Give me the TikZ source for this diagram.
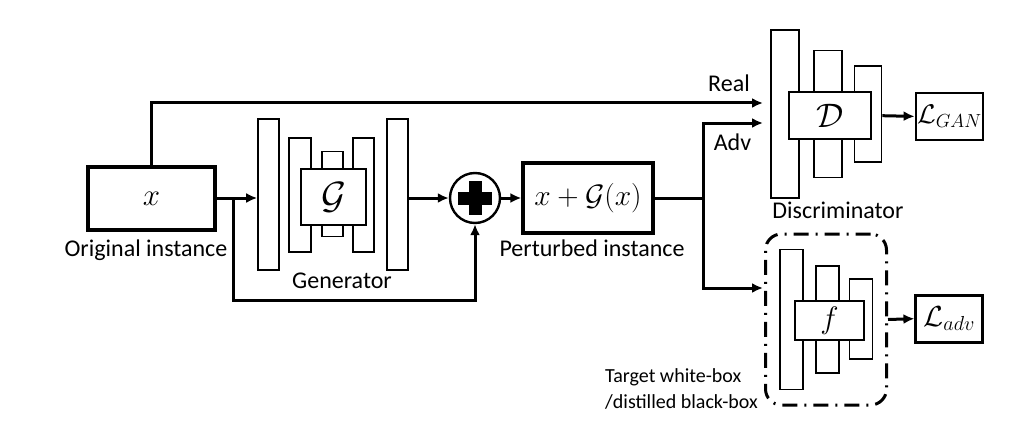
\documentclass[tikz,border=0pt]{standalone}
\usepackage{fix-cm}
\usepackage{fontspec}
\setmainfont{Carlito}
\usepackage{tikz}
\usetikzlibrary{arrows.meta}
\tikzset{
  blk/.style={draw,line width=3.2pt,fill=white,inner sep=0pt},
  inblk/.style={draw,line width=1.9pt,fill=white,inner sep=0pt},
  layer/.style={draw,line width=1.6pt,fill=white,inner sep=0pt},
  wire/.style={line width=3pt},
  arr/.style={line width=3pt,-{Latex[length=11pt,width=10pt]}},
  lbl/.style={font=\fontsize{24}{28}\selectfont,inner sep=0pt},
  mth/.style={font=\fontsize{#1}{#1}\selectfont},
  mth/.default=28
}
\newcommand{\lay}[4]{\node[layer,minimum width=#3,minimum height=#4] (#1) at (#2) {};}

\begin{document}
\begin{tikzpicture}[x=1pt,y=-1pt]
\useasboundingbox (0,0) rectangle (1029,436);
% ---- input ----
\node[blk,mth=31,minimum width=127,minimum height=63] (xin) at (151.5,198.5) {$x$};
\node[lbl,anchor=base] (xlbl) at (146,256) {Original instance};
% generator
\lay{g1}{268.5,194.5}{21}{151}
\lay{g2}{300,195}{22}{114}
\lay{g3}{332.5,194}{21}{85}
\lay{g4}{363.5,195}{21}{114}
\lay{g5}{397.5,194.5}{21}{151}
\node[inblk,mth=38,minimum width=65,minimum height=56] (gbox) at (333.5,197) {$\mathcal{G}$};
\node[lbl,anchor=base] (glbl) at (342,288) {Generator};
% sum
\node[draw,circle,line width=2.4pt,minimum size=50,inner sep=0pt] (plus) at (475,198) {};
\draw[line width=13pt] (plus.center) ++(-17,0) -- ++(34,0) (plus.center) ++(0,-17) -- ++(0,34);
\node[blk,mth=29.5,minimum width=130,minimum height=70] (pert) at (588,198) {$x+\mathcal{G}(x)$};
\node[lbl,anchor=base] (plbl) at (592,256) {Perturbed instance};
% discriminator
\lay{d1}{785,114}{28}{168}
\lay{d2}{828,114}{28}{127}
\lay{d3}{868,114}{27}{96}
\node[inblk,mth=34,minimum width=82,minimum height=47] (dbox) at (830,115.7) {$\mathcal{D}$};
\node[lbl,anchor=base] (dlbl) at (838,218) {Discriminator};
\node[blk,line width=2.6pt,mth=27,minimum width=67,minimum height=47] (lgan) at (949.4,116.4) {$\mathcal{L}_{GAN}$};
% target model
\node[draw,line width=3pt,rounded corners=16pt,dash pattern=on 15pt off 7pt on 2pt off 7pt,
  minimum width=121,minimum height=171,inner sep=0pt] (tgt) at (826,319.5) {};
\lay{f1}{791.3,319.3}{23}{140}
\lay{f2}{827.3,319.2}{23}{107}
\lay{f3}{861,319}{23}{80}
\node[inblk,mth=31,minimum width=69,minimum height=39] (fbox) at (829.5,320.5) {$f$};
\node[blk,line width=2.6pt,mth=29,minimum width=67,minimum height=47] (ladv) at (949.2,318.7) {$\mathcal{L}_{adv}$};
\node[lbl,font=\fontsize{20}{23}\selectfont,anchor=base west] (tlbl1) at (605,382.7) {Target white-box};
\node[lbl,font=\fontsize{20}{23}\selectfont,anchor=base west] (tlbl2) at (605,408) {/distilled black-box};
% wiring
\coordinate (br) at (233,198);
\coordinate (low) at (233,300);
\coordinate (split) at (703,198);
\coordinate (realin) at (763,103);
\coordinate (advin) at (763,123);
\coordinate (fin) at (763,288);
\draw[arr] (xin.east |- br) -- (br -| g1.west);
\draw[arr] (br) -- (low) -| (plus.south);
\draw[arr] (g5.east |- plus) -- (plus.west);
\draw[arr] (plus.east) -- (pert.west);
\draw[arr] (xin.north) |- (realin);
\draw[wire] (pert.east) -- (split);
\draw[arr] (split) |- (advin);
\draw[arr] (split) |- (fin);
\draw[arr] (d3.east |- dbox) -- (lgan.west);
\draw[arr] (tgt.east) -- (ladv.west);
\node[lbl,anchor=base] (real) at (729,92) {Real};
\node[lbl,anchor=base] (adv) at (732.5,150) {Adv};
\end{tikzpicture}
\end{document}
